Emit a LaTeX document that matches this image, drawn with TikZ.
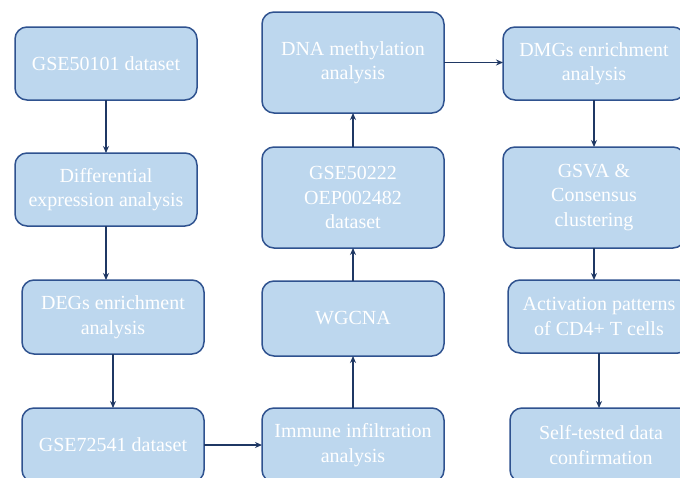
\documentclass[tikz,border=0pt]{standalone}
\usepackage{fontspec}
\setmainfont{Liberation Serif}
\newfontfamily\boxfont{Liberation Serif}
\usetikzlibrary{arrows.meta}
\definecolor{boxfill}{RGB}{189,215,238}
\definecolor{boxline}{RGB}{47,82,143}
\definecolor{arrowc}{RGB}{31,56,100}
\tikzset{
  flowbox/.style={draw=boxline, fill=boxfill, line width=1.5pt, rounded corners=12pt,
    minimum width=182pt, text=white, align=center, inner sep=2pt, outer sep=0pt,
    font=\boxfont\fontsize{20}{24.5}\selectfont},
  flowarrow/.style={draw=arrowc, line width=1.6pt, -{Stealth[length=7pt,width=6pt]}}
}
\begin{document}
\begin{tikzpicture}[x=1pt,y=-1pt]
\useasboundingbox (0,0) rectangle (680,477);
\clip (0,0) rectangle (680,477);
\fill[white] (0,0) rectangle (680,477);
\node[flowbox, minimum height=73pt] (a) at (106,63.5) {GSE50101 dataset};
\node[flowbox, minimum height=73pt] (b) at (106,189.5) {Differential\\expression analysis};
\node[flowbox, minimum height=74pt] (c) at (113,317) {DEGs enrichment\\analysis};
\node[flowbox, minimum height=74pt] (d) at (113,445) {GSE72541 dataset};
\node[flowbox, minimum height=74pt] (e) at (353,445) {Immune infiltration\\analysis};
\node[flowbox, minimum height=75pt] (f) at (353,318.5) {WGCNA};
\node[flowbox, minimum height=101pt] (g) at (353,197.5) {GSE50222\\OEP002482\\dataset};
\node[flowbox, minimum height=101pt] (h) at (353,62.5) {DNA methylation\\analysis};
\node[flowbox, minimum height=73pt] (i) at (594,63.5) {DMGs enrichment\\analysis};
\node[flowbox, minimum height=101pt] (j) at (594,197.5) {GSVA \&\\Consensus\\clustering};
\node[flowbox, minimum height=73pt] (k) at (599,316.5) {Activation patterns\\of CD4+ T cells};
\node[flowbox, minimum height=74pt] (l) at (601,445) {Self-tested data\\confirmation};
\draw[flowarrow] (a.south) -- (a.south |- b.north);
\draw[flowarrow] (b.south) -- (b.south |- c.north);
\draw[flowarrow] (c.south) -- (c.south |- d.north);
\draw[flowarrow] (d.east) -- (d.east -| e.west);
\draw[flowarrow] (e.north) -- (f.south);
\draw[flowarrow] (f.north) -- (g.south);
\draw[flowarrow] (g.north) -- (h.south);
\draw[flowarrow] (h.east) -- (h.east -| i.west);
\draw[flowarrow] (i.south) -- (i.south |- j.north);
\draw[flowarrow] (j.south) -- (j.south |- k.north);
\draw[flowarrow] (k.south) -- (k.south |- l.north);
\end{tikzpicture}
\end{document}
